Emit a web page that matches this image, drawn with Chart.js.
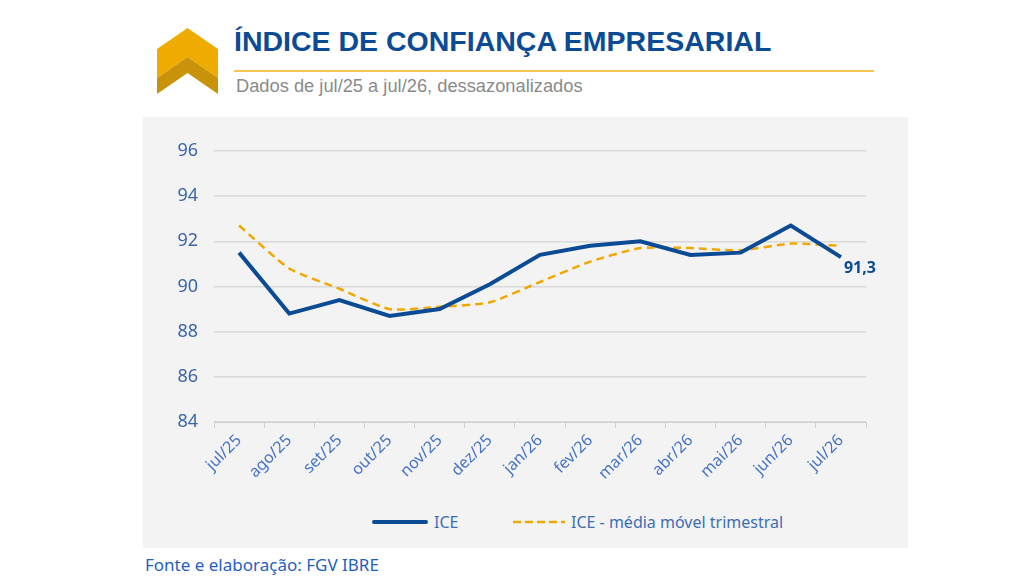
<!DOCTYPE html>
<html lang="pt-BR">
<head>
<meta charset="utf-8">
<title>Índice de Confiança Empresarial</title>
<script src="https://cdn.jsdelivr.net/npm/chart.js@4"></script>
<style>
  body { margin: 0; width: 1024px; height: 585px; background: #fff; position: relative; overflow: hidden; font-family: "Noto Sans", sans-serif; }
  #logo { position: absolute; left: 157px; top: 28px; }
  #title { position: absolute; left: 234px; top: 25px; font: bold 28.5px "Liberation Sans", Arial, sans-serif; color: #0b4a94; white-space: nowrap; }
  #rule { position: absolute; left: 234px; top: 70px; width: 640px; height: 2px; background: #f5c452; }
  #subtitle { position: absolute; left: 236px; top: 75px; font: 18.3px "Liberation Sans", Arial, sans-serif; color: #8a8a8a; white-space: nowrap; }
  #panel { position: absolute; left: 143px; top: 117px; width: 765px; height: 431px; background: #f3f3f3; }
  #chartBox { position: absolute; left: 0; top: 0; width: 765px; height: 380px; }
  #legend { position: absolute; top: 394px; left: 0; width: 765px; font-size: 16px; color: #3d6db5; }
  .item { position: absolute; top: 0; white-space: nowrap; }
  .swatch { display: inline-block; vertical-align: middle; margin-right: 6px; position: relative; top: -2px; }
  #source { position: absolute; left: 145px; top: 553px; font-size: 17px; color: #1f5fbf; white-space: nowrap; }
</style>
</head>
<body>
<svg id="logo" width="61" height="66" viewBox="0 0 61 66">
  <polygon points="0,21 30.5,0 61,21 61,50 30.5,29 0,50" fill="#f0ab00"/>
  <polygon points="0,50 30.5,29 61,50 61,66 30.5,45 0,66" fill="#c8920a"/>
</svg>
<div id="title">ÍNDICE DE CONFIANÇA EMPRESARIAL</div>
<div id="rule"></div>
<div id="subtitle">Dados de jul/25 a jul/26, dessazonalizados</div>
<div id="panel">
  <div id="chartBox"><canvas id="iceChart"></canvas></div>
  <div id="legend"></div>
</div>
<div id="source">Fonte e elaboração: FGV IBRE</div>
<script>
// Categorias (meses) e séries
const months = ['jul/25', 'ago/25', 'set/25', 'out/25', 'nov/25', 'dez/25', 'jan/26',
                'fev/26', 'mar/26', 'abr/26', 'mai/26', 'jun/26', 'jul/26'];
const iceValues = [91.5, 88.8, 89.4, 88.7, 89.0, 90.1, 91.4, 91.8, 92.0, 91.4, 91.5, 92.7, 91.3];
const iceMovingAvg = [92.7, 90.8, 89.9, 89.0, 89.1, 89.3, 90.2, 91.1, 91.7, 91.7, 91.6, 91.9, 91.8];
const yTicks = [84, 86, 88, 90, 92, 94, 96];
const seriesNames = ['ICE', 'ICE - média móvel trimestral'];

const blue = '#0b4a94';
const orange = '#f0a800';
const tickColor = '#3b66a8';

// Rótulo do último ponto do ICE (91,3)
const lastLabelPlugin = {
    id: 'lastLabel',
    afterDatasetsDraw(chart) {
        const meta = chart.getDatasetMeta(0);
        const last = meta.data[meta.data.length - 1];
        const value = iceValues[iceValues.length - 1];
        const ctx = chart.ctx;
        ctx.save();
        ctx.font = 'bold 16px "Noto Sans"';
        ctx.fillStyle = blue;
        ctx.textAlign = 'left';
        ctx.textBaseline = 'middle';
        ctx.fillText(value.toFixed(1).replace('.', ','), last.x + 3, last.y + 11);
        ctx.restore();
    }
};

function createIceChart() {
    const ctx = document.getElementById('iceChart').getContext('2d');
    const iceChart = new Chart(ctx, {
        type: 'line',
        data: {
            labels: months,
            datasets: [{
                label: seriesNames[0],
                data: iceValues,
                borderColor: blue,
                borderWidth: 4,
                pointRadius: 0,
                tension: 0,
                order: 0
            }, {
                label: seriesNames[1],
                data: iceMovingAvg,
                borderColor: orange,
                borderWidth: 2.5,
                borderDash: [8, 5],
                pointRadius: 0,
                tension: 0.2,
                order: 1
            }]
        },
        options: {
            responsive: true,
            maintainAspectRatio: false,
            animation: false,
            layout: { padding: { top: 34, right: 42, left: 0, bottom: 0 } },
            plugins: {
                legend: { display: false },
                tooltip: { enabled: false }
            },
            scales: {
                x: {
                    offset: true,
                    afterFit: scale => { scale.height = 75; },
                    grid: { display: true, drawOnChartArea: false, offset: true, tickLength: 6, color: '#d0d0d0' },
                    border: { display: true, color: '#d0d0d0' },
                    ticks: {
                        color: '#4472c4',
                        font: { family: 'Noto Sans', size: 16 },
                        minRotation: 45,
                        maxRotation: 45,
                        padding: 3,
                        autoSkip: false
                    }
                },
                y: {
                    min: yTicks[0],
                    max: yTicks[yTicks.length - 1],
                    afterFit: scale => { scale.width = 71; },
                    afterBuildTicks: scale => { scale.ticks = yTicks.map(v => ({ value: v })); },
                    grid: { color: '#d9d9d9', lineWidth: 1.5, drawTicks: false },
                    border: { display: false },
                    ticks: {
                        color: tickColor,
                        font: { family: 'Noto Sans', size: 18 },
                        padding: 16
                    }
                }
            }
        },
        plugins: [lastLabelPlugin]
    });
    return iceChart;
}

// Legenda em HTML (linha contínua e tracejada)
function buildLegend() {
    const legend = document.getElementById('legend');
    legend.innerHTML =
        '<span class="item" style="left:229px"><svg class="swatch" width="56" height="6"><line x1="2" y1="3" x2="54" y2="3" stroke="' + blue + '" stroke-width="4" stroke-linecap="round"/></svg>' + seriesNames[0] + '</span>' +
        '<span class="item" style="left:370px"><svg class="swatch" width="52" height="6"><line x1="0" y1="3" x2="52" y2="3" stroke="' + orange + '" stroke-width="2.5" stroke-dasharray="8,4"/></svg>' + seriesNames[1] + '</span>';
}

window.onload = function() {
    createIceChart();
    buildLegend();
};
</script>
</body>
</html>
